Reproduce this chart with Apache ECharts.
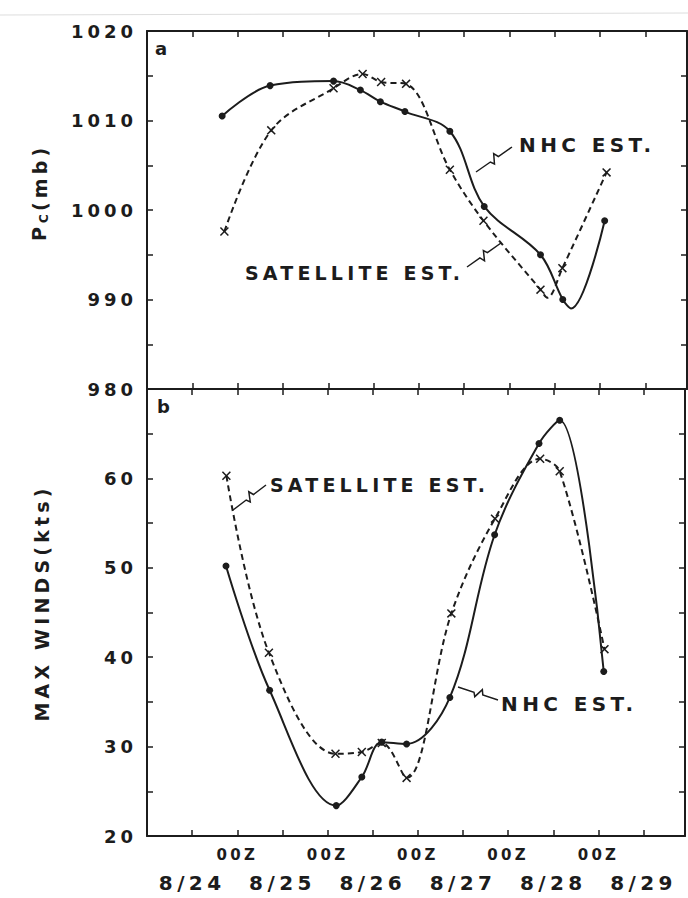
<!DOCTYPE html>
<html><head><meta charset="utf-8">
<style>
html,body{margin:0;padding:0;background:#fff;}
#c{width:688px;height:898px;}
#c svg text{letter-spacing:0.22em;}
</style>
<script src="https://cdn.jsdelivr.net/npm/echarts@6/dist/echarts.min.js"></script>
</head><body><div id="c"></div>
<script>
// ---- Data (x = hours after 00Z 8/24) ----
// (a) Central pressure, NHC estimate
const nhcPressureHours = [19.9, 32.6, 49.4, 56.5, 61.8, 68.3, 80.2, 89.3, 104.2, 110.1, 112.3, 121.2];
const nhcPressure      = [1010.5, 1013.9, 1014.4, 1013.4, 1012.1, 1011.0, 1008.8, 1000.4, 995.0, 990.0, 989.0, 998.8];
const nhcPressureMarked = [1,1,1,1,1,1,1,1,1,1,0,1];   // 0 = curve vertex without a marker
// (a) Central pressure, satellite estimate
const satPressureHours = [20.5, 32.9, 49.4, 57.1, 62.0, 68.6, 80.2, 89.1, 104.2, 106.0, 110.0, 121.7];
const satPressure      = [997.6, 1008.9, 1013.6, 1015.2, 1014.3, 1014.1, 1004.5, 998.8, 991.1, 990.2, 993.5, 1004.2];
const satPressureMarked = [1,1,1,1,1,1,1,1,1,0,1,1];
// (b) Max winds, NHC estimate
const nhcWindHours = [21.0, 32.6, 50.3, 57.1, 62.4, 69.0, 80.5, 92.4, 104.2, 109.7, 121.4];
const nhcWind      = [50.2, 36.3, 23.4, 26.6, 30.5, 30.3, 35.5, 53.7, 63.9, 66.5, 38.4];
// (b) Max winds, satellite estimate
const satWindHours = [21.1, 32.4, 50.1, 57.1, 62.4, 69.0, 80.9, 92.5, 104.5, 109.7, 121.6];
const satWind      = [60.3, 40.5, 29.2, 29.4, 30.4, 26.5, 44.9, 55.5, 62.2, 60.8, 40.9];
// Tick labels
const pressureTicks = [980, 990, 1000, 1010, 1020];
const windTicks = [20, 30, 40, 50, 60];
const zeroZLabel = '00Z';
const dateLabels = ['8/24', '8/25', '8/26', '8/27', '8/28', '8/29'];

// ---- Style ----
const INK = '#1c1c1c';
const FONT = 'DejaVu Sans';
const X_MAX = 143;
const xMark = 'path://M0,1.2 L1.2,0 L5,3.8 L8.8,0 L10,1.2 L6.2,5 L10,8.8 L8.8,10 L5,6.2 L1.2,10 L0,8.8 L3.8,5 Z';

const chart = echarts.init(document.getElementById('c'), null, {renderer: 'svg', width: 688, height: 898});

function xAx(grid, pos, extra) {
  return Object.assign({
    type: 'value', gridIndex: grid, position: pos, min: 0, max: X_MAX, interval: 12,
    splitLine: {show: false},
    axisLine: {show: true, onZero: false, lineStyle: {color: INK, width: 2}},
    axisTick: {show: true, inside: true, length: 6, lineStyle: {color: INK, width: 1.5}},
    axisLabel: {show: false}
  }, extra || {});
}
function yAx(grid, pos, min, max, ticks) {
  return {
    type: 'value', gridIndex: grid, position: pos, min: min, max: max, interval: 5,
    splitLine: {show: false},
    axisLine: {show: true, onZero: false, lineStyle: {color: INK, width: 2}},
    axisTick: {show: true, inside: true, length: 6, lineStyle: {color: INK, width: 1.5}},
    axisLabel: ticks ? {
      show: true, margin: 10, color: INK, fontFamily: FONT, fontWeight: 'bold', fontSize: 18,
      formatter: v => ticks.indexOf(v) >= 0 ? String(v) : ''
    } : {show: false}
  };
}
function lineSeries(xi, yi, hours, vals, marked, dashed) {
  return {
    type: 'line', xAxisIndex: xi, yAxisIndex: yi, smooth: 0.35,
    data: hours.map((h, i) => ({
      value: [h, vals[i]],
      symbol: (marked && !marked[i]) ? 'none' : (dashed ? xMark : 'circle')
    })),
    symbolSize: dashed ? 9 : 7,
    lineStyle: {color: INK, width: 2, type: dashed ? [6, 4] : 'solid'},
    itemStyle: {color: INK, borderWidth: 0},
    z: dashed ? 3 : 4
  };
}

function zig(x1, y1, x2, y2) {
  const dx = x2 - x1, dy = y2 - y1, L = Math.hypot(dx, dy);
  const px = -dy / L, py = dx / L;
  const a = 0.38, b = 0.55;
  return [[x1, y1],
    [x1 + dx * a, y1 + dy * a],
    [x1 + dx * (a + 0.05) + px * 5, y1 + dy * (a + 0.05) + py * 5],
    [x1 + dx * b - px * 4, y1 + dy * b - py * 4],
    [x1 + dx * (b + 0.05), y1 + dy * (b + 0.05)],
    [x2, y2]];
}
function txt(x, y, s, size, align, rot) {
  return {type: 'text', x: x, y: y, rotation: rot || 0, z: 10,
    style: {text: s, fill: INK, font: 'bold ' + size + 'px "' + FONT + '"',
      align: align || 'left', textAlign: align || 'left', verticalAlign: 'middle', textVerticalAlign: 'middle'}};
}
function leader(pts) {
  return {type: 'polyline', z: 10, shape: {points: pts}, style: {stroke: INK, lineWidth: 1.5, fill: 'none'}};
}

const option = {
  animation: false,
  backgroundColor: '#ffffff',
  grid: [
    {left: 147, top: 31, width: 540, height: 358},
    {left: 147, top: 389, width: 540, height: 447}
  ],
  xAxis: [
    xAx(0, 'top'),
    xAx(0, 'bottom'),
    xAx(1, 'top'),
    xAx(1, 'bottom', {axisLabel: {show: true, margin: 11, color: INK, fontFamily: FONT, fontWeight: 'bold', fontSize: 15,
      formatter: v => (v > 0 && v < X_MAX && v % 24 === 0) ? zeroZLabel : ''}}),
    xAx(1, 'bottom', {offset: 27, axisLine: {show: false}, axisTick: {show: false},
      axisLabel: {show: true, margin: 10, color: INK, fontFamily: FONT, fontWeight: 'bold', fontSize: 20,
        formatter: v => (v % 24 === 12) ? dateLabels[Math.floor(v / 24)] : ''}})
  ],
  yAxis: [
    yAx(0, 'left', 980, 1020, pressureTicks),
    yAx(0, 'right', 980, 1020, null),
    yAx(1, 'left', 20, 70, windTicks),
    yAx(1, 'right', 20, 70, null)
  ],
  series: [
    lineSeries(1, 0, nhcPressureHours, nhcPressure, nhcPressureMarked, false),
    lineSeries(1, 0, satPressureHours, satPressure, satPressureMarked, true),
    lineSeries(3, 2, nhcWindHours, nhcWind, null, false),
    lineSeries(3, 2, satWindHours, satWind, null, true)
  ],
  graphic: [
    {type: 'line', shape: {x1: 0, y1: 15, x2: 688, y2: 13}, style: {stroke: '#dddddd', lineWidth: 1}},
    txt(155, 48, 'a', 18),
    txt(157, 406, 'b', 18),
    txt(39, 241, 'P', 19, 'left', Math.PI / 2),
    txt(44, 223, 'C', 12, 'left', Math.PI / 2),
    txt(40, 211, '(mb)', 19, 'left', Math.PI / 2),
    txt(42, 603, 'MAX WINDS(kts)', 19, 'center', Math.PI / 2),
    txt(519, 145, 'NHC EST.', 20),
    leader(zig(512, 147, 476, 172)),
    txt(245, 273, 'SATELLITE EST.', 19),
    leader(zig(467, 267, 501, 243)),
    txt(270, 485, 'SATELLITE EST.', 19),
    leader(zig(266, 485, 233, 510)),
    txt(501, 704, 'NHC EST.', 20),
    leader(zig(498, 700, 458, 687))
  ]
};
chart.setOption(option);
</script>
</body></html>
